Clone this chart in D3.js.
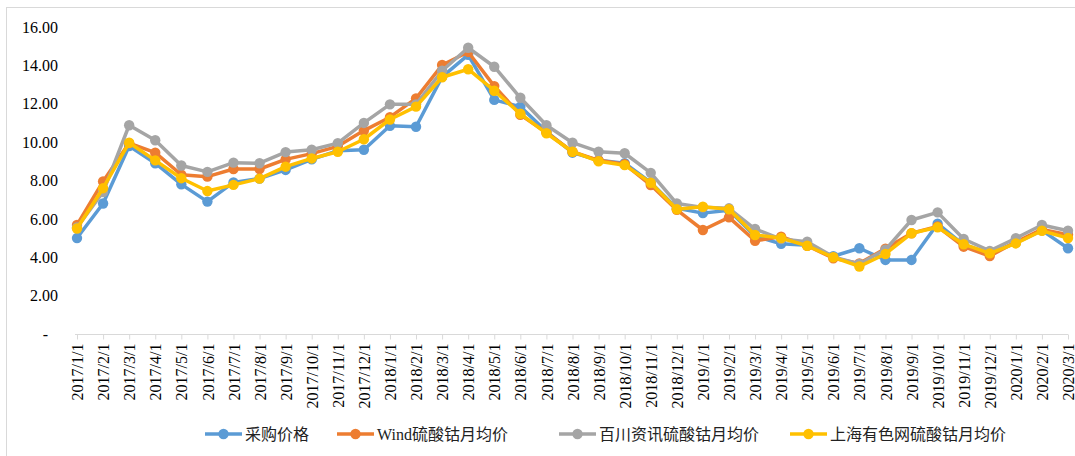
<!DOCTYPE html>
<html>
<head>
<meta charset="utf-8">
<script src="https://cdn.jsdelivr.net/npm/d3@7"></script>
<style>
  body { margin: 0; background: #fff; }
  svg text { font-family: "Liberation Serif", "Times New Roman", "Noto Sans CJK SC", serif; }
</style>
</head>
<body>
<div id="container"></div>
<script>
const width = 1075;
const height = 456;

// months 2017/1/1 .. 2020/3/1
const months = [
  "2017/1/1","2017/2/1","2017/3/1","2017/4/1","2017/5/1","2017/6/1","2017/7/1","2017/8/1","2017/9/1","2017/10/1","2017/11/1","2017/12/1",
  "2018/1/1","2018/2/1","2018/3/1","2018/4/1","2018/5/1","2018/6/1","2018/7/1","2018/8/1","2018/9/1","2018/10/1","2018/11/1","2018/12/1",
  "2019/1/1","2019/2/1","2019/3/1","2019/4/1","2019/5/1","2019/6/1","2019/7/1","2019/8/1","2019/9/1","2019/10/1","2019/11/1","2019/12/1",
  "2020/1/1","2020/2/1","2020/3/1"
];

const purchase = [5.0,6.8,9.8,8.9,7.8,6.9,7.9,8.1,8.55,9.1,9.55,9.6,
  10.85,10.8,13.4,14.55,12.2,11.85,10.55,9.45,9.05,8.9,7.9,6.55,
  6.3,6.45,5.1,4.7,4.62,4.05,4.47,3.86,3.86,5.75,4.65,4.2,
  4.75,5.4,4.47];
const wind = [5.68,7.95,9.95,9.45,8.3,8.2,8.6,8.6,9.1,9.4,9.78,10.6,
  11.3,12.28,14.02,14.7,12.92,11.42,10.5,9.5,9.05,8.85,7.76,6.47,
  5.42,6.08,4.86,5.07,4.6,3.95,3.68,4.45,5.25,5.6,4.55,4.06,
  4.8,5.45,5.17];
const baichuan = [5.55,7.4,10.88,10.1,8.78,8.45,8.93,8.9,9.48,9.6,9.95,11.0,
  11.97,11.97,13.72,14.92,13.93,12.31,10.88,9.97,9.5,9.42,8.4,6.8,
  6.6,6.55,5.47,4.95,4.81,4.02,3.65,4.4,5.94,6.34,4.95,4.33,
  4.99,5.68,5.38];
const smm = [5.5,7.6,9.97,9.05,8.12,7.45,7.77,8.1,8.72,9.15,9.5,10.15,
  11.18,11.85,13.38,13.8,12.68,11.48,10.46,9.5,9.0,8.8,7.88,6.5,
  6.63,6.5,5.16,5.0,4.6,4.0,3.52,4.17,5.25,5.56,4.68,4.2,
  4.72,5.38,5.0];

const yTicks = [0,2,4,6,8,10,12,14,16];
const seriesNames = ["采购价格","Wind硫酸钴月均价","百川资讯硫酸钴月均价","上海有色网硫酸钴月均价"];
const seriesColors = ["#5B9BD5","#ED7D31","#A5A5A5","#FFC000"];
const seriesData = [purchase, wind, baichuan, smm];

const svg = d3.select("#container")
  .append("svg")
  .attr("width", width)
  .attr("height", height);

// chart area border
svg.append("rect")
  .attr("x", 6.5).attr("y", 7.5)
  .attr("width", width + 10).attr("height", height + 10)
  .attr("fill", "none")
  .attr("stroke", "#d9d9d9")
  .attr("stroke-width", 1);

const xScale = d3.scalePoint()
  .domain(months)
  .range([77, 1068]);

const yScale = d3.scaleLinear()
  .domain([0, 16])
  .range([334, 27]);

// y axis labels (no line)
const yAxis = d3.axisLeft(yScale)
  .tickValues(yTicks)
  .tickSize(0)
  .tickPadding(0)
  .tickFormat(d => d === 0 ? "-" : d3.format(".2f")(d));

svg.append("g")
  .attr("transform", "translate(58,0)")
  .call(yAxis)
  .call(g => g.select(".domain").remove())
  .call(g => g.selectAll("text")
    .attr("font-size", 16)
    .attr("fill", "#000")
    .attr("font-family", "Liberation Serif, serif")
    .attr("dx", d => d === 0 ? -10 : 0));

// x axis
const xAxis = d3.axisBottom(xScale)
  .tickSize(5)
  .tickSizeOuter(0)
  .tickPadding(0);

svg.append("g")
  .attr("transform", "translate(0,334.5)")
  .call(xAxis)
  .call(g => g.select(".domain").attr("stroke", "#d9d9d9").attr("d", "M75,0H1068"))
  .call(g => g.selectAll(".tick line").attr("stroke", "#d9d9d9"))
  .call(g => g.selectAll("text")
    .attr("font-size", 16)
    .attr("fill", "#000")
    .attr("font-family", "Liberation Serif, serif")
    .attr("text-anchor", "end")
    .attr("transform", "translate(0,9) rotate(-90)")
    .attr("x", 0)
    .attr("y", 0)
    .attr("dy", "0.35em"));

// lines + markers
const line = d3.line()
  .x((d, i) => xScale(months[i]))
  .y(d => yScale(d));

seriesData.forEach((vals, k) => {
  const g = svg.append("g");
  g.append("path")
    .datum(vals)
    .attr("d", line)
    .attr("fill", "none")
    .attr("stroke", seriesColors[k])
    .attr("stroke-width", 3.5)
    .attr("stroke-linejoin", "round")
    .attr("stroke-linecap", "round");
  g.selectAll("circle")
    .data(vals)
    .join("circle")
    .attr("cx", (d, i) => xScale(months[i]))
    .attr("cy", d => yScale(d))
    .attr("r", 5.2)
    .attr("fill", seriesColors[k]);
});

// legend
const legendX = [205, 337, 559, 790];
const legend = svg.append("g").attr("transform", "translate(0,434)");
seriesNames.forEach((name, k) => {
  const item = legend.append("g").attr("transform", `translate(${legendX[k]},0)`);
  item.append("line")
    .attr("x1", 0).attr("x2", 37)
    .attr("y1", 0).attr("y2", 0)
    .attr("stroke", seriesColors[k])
    .attr("stroke-width", 3.5);
  item.append("circle")
    .attr("cx", 18.5).attr("cy", 0).attr("r", 5.2)
    .attr("fill", seriesColors[k]);
  item.append("text")
    .attr("x", 40)
    .attr("y", 0)
    .attr("dy", "0.35em")
    .attr("font-size", 16)
    .attr("fill", "#222")
    .text(name);
});
</script>
</body>
</html>
